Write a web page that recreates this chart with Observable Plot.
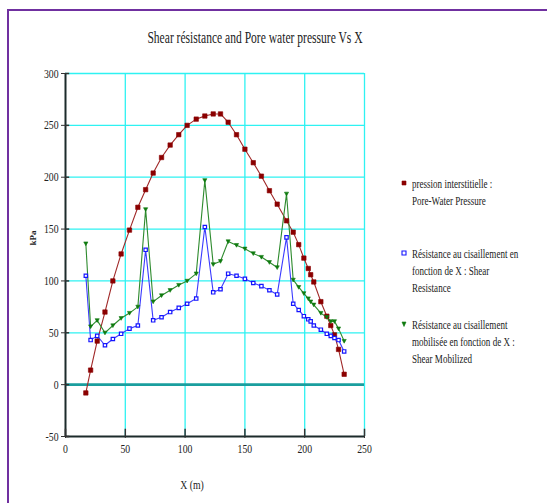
<!DOCTYPE html>
<html><head><meta charset="utf-8">
<script src="https://cdn.jsdelivr.net/npm/d3@7"></script>
<script src="https://cdn.jsdelivr.net/npm/@observablehq/plot@0.6"></script>
<style>
body{margin:0;background:#fff;}
#wrap{position:relative;width:547px;height:503px;overflow:hidden;font-family:"Liberation Serif","Times New Roman",serif;color:#222;}
#frame{position:absolute;left:7px;top:9px;width:620px;height:620px;border:2px solid #7030a0;box-sizing:border-box;}
#chart{position:absolute;left:0;top:0;}
.t{position:absolute;white-space:nowrap;line-height:1;}
#title{left:255px;top:29px;font-size:17px;transform:translateX(-50%) scaleX(0.68);}
#xlabel{left:192px;top:478px;font-size:13px;transform:translateX(-50%) scaleX(0.75);}
#ylabel{left:33px;top:238px;font-size:9px;font-weight:bold;transform:translate(-50%,-50%) rotate(-90deg);}
.leg{position:absolute;left:412px;font-size:13.5px;line-height:17px;transform-origin:left top;transform:scaleX(0.67);white-space:nowrap;font-family:"Liberation Serif","Times New Roman",serif;}
.mk{position:absolute;}
</style></head>
<body>
<div id="wrap">
  <div id="frame"></div>
  <div id="chart"></div>
  <div class="t" id="title">Shear résistance and Pore water pressure Vs X</div>
  <div class="t" id="xlabel">X (m)</div>
  <div class="t" id="ylabel">kPa</div>
  <div id="legend"></div>
</div>
<script>
const xs = [17, 21, 26.5, 33, 39.6, 46.5, 53.5, 60.5, 67, 73.3, 80.3, 87.5, 94.7, 101.7, 109.3, 116.5, 123.5, 129.6, 136, 143, 150, 157, 163.8, 170.5, 177, 184.8, 190.4, 195, 199.3, 203, 205, 207.6, 213.5, 218.5, 221.8, 224.9, 228.3, 233];
const poreWater = [-8, 14, 42, 70, 100, 126, 149, 171, 188, 204, 219, 231, 241, 250, 256, 259, 261, 261, 253, 241, 227, 214, 201, 187, 174, 158, 147, 135, 122, 112, 106, 99, 80, 66, 57, 48, 34, 10];
const shearResistance = [105, 43, 47, 38, 44, 49, 54, 57, 130, 62, 65, 70, 74, 78, 83, 152, 89, 92, 107, 105, 102, 98, 95, 91, 87, 142, 78, 72, 66, 63, 61, 57, 53, 49, 47, 45, 43, 32];
const shearMobilized = [136, 56, 62, 50, 57, 64, 69, 75, 169, 80, 86, 91, 96, 100, 107, 197, 116, 119, 138, 134.5, 131, 126.5, 123, 118, 113, 184, 101, 94, 88, 83, 80, 77, 69, 65, 61, 61, 54, 42];
const xTicks = [0, 50, 100, 150, 200, 250];
const yTicks = [-50, 0, 50, 100, 150, 200, 250, 300];
const legendLines = [
  ["pression interstitielle :", "Pore-Water Pressure"],
  ["Résistance au cisaillement en", "fonction de X : Shear", "Resistance"],
  ["Résistance au cisaillement", "mobilisée en fonction de X :", "Shear Mobilized"]
];

const seriesDefs = [
  {vals: poreWater, line: "#a02828", fill: "#8b0000", stroke: "#8b0000", symbol: "square", r: 2.5},
  {vals: shearResistance, line: "#3a3aff", fill: "white", stroke: "#1414ff", symbol: "square", r: 1.9},
  {vals: shearMobilized, line: "#2e8b2e", fill: "#0f7a0f", stroke: "#0f7a0f", symbol: "down", r: 2.6}
];
const triDown = {draw(ctx, size) { const s = Math.sqrt(size) * 0.45; ctx.moveTo(-s, -s * 0.8); ctx.lineTo(s, -s * 0.8); ctx.lineTo(0, s * 1.0); ctx.closePath(); }};

const gridX = xTicks.filter(d => d > 0);
const gridY = yTicks.filter(d => d > -50 && d !== 0);

const marks = [
  Plot.ruleX(gridX, {stroke: "#2ef2f2", strokeWidth: 1.3}),
  Plot.ruleY(gridY, {stroke: "#2ef2f2", strokeWidth: 1.3}),
  Plot.ruleY([0], {stroke: "#1a9e9e", strokeWidth: 2.6}),
  Plot.ruleX([0], {stroke: "#1c2b2b", strokeWidth: 2}),
  Plot.ruleY([-50], {stroke: "#1c2b2b", strokeWidth: 2}),
  Plot.ruleY(yTicks, {x1: 0, x2: 3.5, stroke: "#333", strokeWidth: 1.5}),
  Plot.ruleX(xTicks, {y1: -50, y2: -43, stroke: "#333", strokeWidth: 1.5}),
  Plot.axisY({ticks: yTicks, tickSize: 4, tickPadding: 3, label: null, tickFormat: d => String(d), stroke: "#333"}),
  Plot.axisX({ticks: xTicks, tickSize: 2, tickPadding: 6, label: null, tickFormat: d => String(d), stroke: "#333"})
];
for (const s of seriesDefs) {
  const data = xs.map((x, i) => ({x, y: s.vals[i]}));
  marks.push(Plot.line(data, {x: "x", y: "y", stroke: s.line, strokeWidth: 1.1}));
}
for (const s of seriesDefs) {
  const data = xs.map((x, i) => ({x, y: s.vals[i]}));
  marks.push(Plot.dot(data, {x: "x", y: "y", symbol: s.symbol === "down" ? triDown : "square", r: s.r, fill: s.fill, stroke: s.stroke, strokeWidth: s.fill === "white" ? 1.2 : 0.6}));
}

const chart = Plot.plot({
  width: 547, height: 503,
  marginLeft: 65, marginRight: 183, marginTop: 73, marginBottom: 67,
  x: {domain: [0, 250]},
  y: {domain: [-50, 300]},
  style: {fontFamily: "'Liberation Serif', 'Times New Roman', serif", fontSize: "12.5px", color: "#222", background: "transparent"},
  marks
});
document.getElementById("chart").appendChild(chart);
chart.querySelectorAll("text").forEach(t => {
  const tr = t.getAttribute("transform") || "";
  t.setAttribute("transform", tr + " scale(0.78,1)");
});

const legTop = [175, 245, 316];
const legend = document.getElementById("legend");
legendLines.forEach((lines, i) => {
  const d = document.createElement("div");
  d.className = "leg";
  d.style.top = legTop[i] + "px";
  d.innerHTML = lines.map(l => l.replace(/&/g, "&amp;")).join("<br>");
  legend.appendChild(d);
  const s = seriesDefs[i];
  const m = document.createElementNS("http://www.w3.org/2000/svg", "svg");
  m.setAttribute("width", 8); m.setAttribute("height", 8);
  m.setAttribute("class", "mk");
  m.style.left = "400px"; m.style.top = (legTop[i] + 4) + "px";
  const p = document.createElementNS("http://www.w3.org/2000/svg", "path");
  if (s.symbol === "down") p.setAttribute("d", "M2,2 L6,2 L4,6.5 Z");
  else p.setAttribute("d", "M2,2 H6 V6 H2 Z");
  p.setAttribute("fill", s.fill); p.setAttribute("stroke", s.stroke); p.setAttribute("stroke-width", s.fill === "white" ? 1.1 : 0.6);
  m.appendChild(p);
  legend.appendChild(m);
});
</script>
</body></html>
